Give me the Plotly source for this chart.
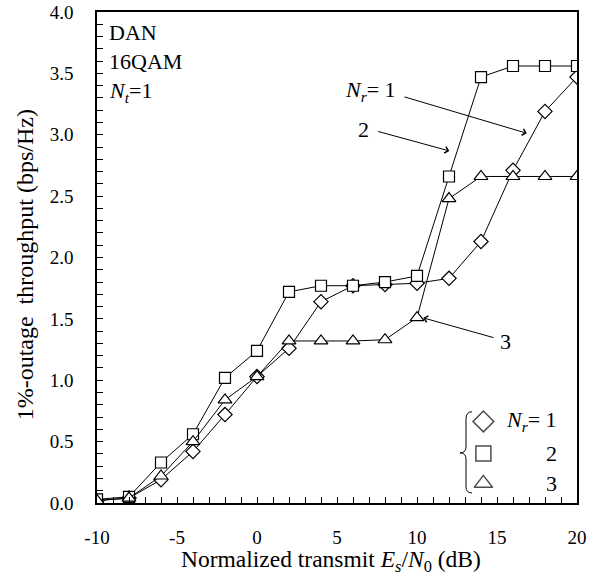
import plotly.graph_objects as go

snr_db = [-10, -8, -6, -4, -2, 0, 2, 4, 6, 8, 10, 12, 14, 16, 18, 20]
thr_nr1 = [0.02, 0.04, 0.19, 0.42, 0.72, 1.03, 1.26, 1.64, 1.77, 1.78, 1.79, 1.83, 2.13, 2.71, 3.19, 3.47]
thr_nr2 = [0.03, 0.05, 0.33, 0.56, 1.02, 1.24, 1.72, 1.77, 1.77, 1.80, 1.85, 2.66, 3.47, 3.56, 3.56, 3.56]
thr_nr3 = [0.02, 0.04, 0.22, 0.50, 0.84, 1.03, 1.32, 1.32, 1.32, 1.33, 1.51, 2.48, 2.66, 2.66, 2.66, 2.66]

x_tick_vals = [-10, -5, 0, 5, 10, 15, 20]
x_tick_text = ["-10", "-5", "0", "5", "10", "15", "20"]

series = [
    ("N_r=1", thr_nr1, "diamond", 11),
    ("N_r=2", thr_nr2, "square", 11),
    ("N_r=3", thr_nr3, "triangle-up", 12),
]

FONT = "Liberation Serif"
TXT = 22

fig = go.Figure()
for name, vals, sym, sz in series:
    fig.add_trace(go.Scatter(
        x=snr_db, y=vals, mode="lines+markers", name=name,
        line=dict(color="black", width=1),
        marker=dict(symbol=sym, size=sz, color="white",
                    line=dict(color="black", width=1.2)),
        showlegend=False,
    ))

# legend markers on an overlay axis (0..1)
leg_symbols = ["diamond", "square", "triangle-up"]
leg_y = [0.166, 0.101, 0.040]
fig.add_trace(go.Scatter(
    x=[0.805] * 3, y=leg_y, xaxis="x2", yaxis="y2", mode="markers",
    marker=dict(symbol=leg_symbols, size=[16, 15, 16], color="white",
                line=dict(color="black", width=1.5)),
    showlegend=False, hoverinfo="skip",
))

fig.update_layout(
    width=611, height=579,
    margin=dict(l=97, r=34, t=12, b=76),
    paper_bgcolor="white", plot_bgcolor="white",
    font=dict(family=FONT, size=19, color="black"),
    xaxis=dict(
        range=[-10, 20], tickmode="array", tickvals=x_tick_vals, ticktext=x_tick_text,
        ticks="inside", ticklen=6, tickcolor="black",
        minor=dict(dtick=1, tick0=-10, ticks="inside", ticklen=6, tickcolor="black"),
        showline=True, linecolor="black", linewidth=1.5, mirror=True,
        showgrid=False, zeroline=False, automargin=False,
        ticklabelstandoff=16, ticklabeloverflow="allow",
        tickfont=dict(size=19),
    ),
    yaxis=dict(
        range=[0, 4.0], tickmode="linear", tick0=0, dtick=0.5, tickformat=".1f",
        ticks="inside", ticklen=6, tickcolor="black",
        minor=dict(dtick=0.1, ticks="inside", ticklen=6, tickcolor="black"),
        showline=True, linecolor="black", linewidth=1.5, mirror=True,
        showgrid=False, zeroline=False, automargin=False,
        ticklabelstandoff=18, ticklabeloverflow="allow",
        tickfont=dict(size=19),
    ),
    xaxis2=dict(range=[0, 1], overlaying="x", visible=False, fixedrange=True),
    yaxis2=dict(range=[0, 1], overlaying="y", visible=False, fixedrange=True),
)

ann = []
# axis titles
ann.append(dict(text="Normalized transmit <i>E</i><sub><i>s</i></sub>/<i>N</i><sub>0</sub> (dB)",
                xref="paper", yref="paper", x=0.488, y=-0.118, xanchor="center",
                yanchor="middle", showarrow=False, font=dict(size=23.5)))
ann.append(dict(text="1%-outage\u00a0 throughput (bps/Hz)", textangle=-90,
                xref="paper", yref="paper", x=-0.150, y=0.484, xanchor="center",
                yanchor="middle", showarrow=False, font=dict(size=24)))

# top-left labels
for txt, yy in [("DAN", 0.959), ("16QAM", 0.899), ("<i>N</i><sub><i>t</i></sub>=1", 0.837)]:
    ann.append(dict(text=txt, xref="paper", yref="paper", x=0.021, y=yy,
                    xanchor="left", yanchor="middle", showarrow=False,
                    font=dict(size=TXT)))

# arrows (tail -> head in data coords)
arrows = [((9.125, 3.312), (16.86, 3.012)),
          ((7.48, 3.03), (12.02, 2.868)),
          ((14.875, 1.344), (10.39, 1.508))]
for (tx, ty), (hx, hy) in arrows:
    ann.append(dict(text="", x=hx, y=hy, ax=tx, ay=ty, xref="x", yref="y",
                    axref="x", ayref="y", showarrow=True, arrowhead=4,
                    arrowsize=1.3, arrowwidth=1, arrowcolor="black", standoff=0))

ann.append(dict(text="<i>N</i><sub><i>r</i></sub>= 1", x=8.8, y=3.36, xref="x", yref="y",
                xanchor="right", yanchor="middle", showarrow=False, font=dict(size=TXT)))
ann.append(dict(text="2", x=6.64, y=3.045, xref="x", yref="y",
                xanchor="center", yanchor="middle", showarrow=False, font=dict(size=TXT)))
ann.append(dict(text="3", x=15.5, y=1.317, xref="x", yref="y",
                xanchor="center", yanchor="middle", showarrow=False, font=dict(size=TXT)))

# legend text
for txt, yy in zip(["<i>N</i><sub><i>r</i></sub>= 1", "2", "3"], leg_y):
    ann.append(dict(text=txt, xref="paper", yref="paper", x=0.962, y=yy,
                    xanchor="right", yanchor="middle", showarrow=False, font=dict(size=TXT)))

fig.update_layout(annotations=ann)

# brace for legend
def px2paper(px, py):
    return (px - 97) / 480.0, (503 - py) / 490.0

pts = {
    "top": px2paper(472, 412), "tc": px2paper(466, 412), "t1": px2paper(466, 419),
    "m1": px2paper(466, 447), "mc1": px2paper(466, 453), "mid": px2paper(460, 453),
    "mc2": px2paper(466, 453), "m2": px2paper(466, 459),
    "b1": px2paper(466, 487), "bc": px2paper(466, 493), "bot": px2paper(472, 493),
}
def p(k):
    return f"{pts[k][0]:.5f},{pts[k][1]:.5f}"
path = (f"M {p('top')} Q {p('tc')} {p('t1')} L {p('m1')} Q {p('mc1')} {p('mid')} "
        f"Q {p('mc2')} {p('m2')} L {p('b1')} Q {p('bc')} {p('bot')}")
fig.add_shape(type="path", path=path, xref="paper", yref="paper",
              line=dict(color="black", width=1))

fig.write_html("out.html", config={"displayModeBar": False},
               post_script="document.body.style.margin='0px';")
